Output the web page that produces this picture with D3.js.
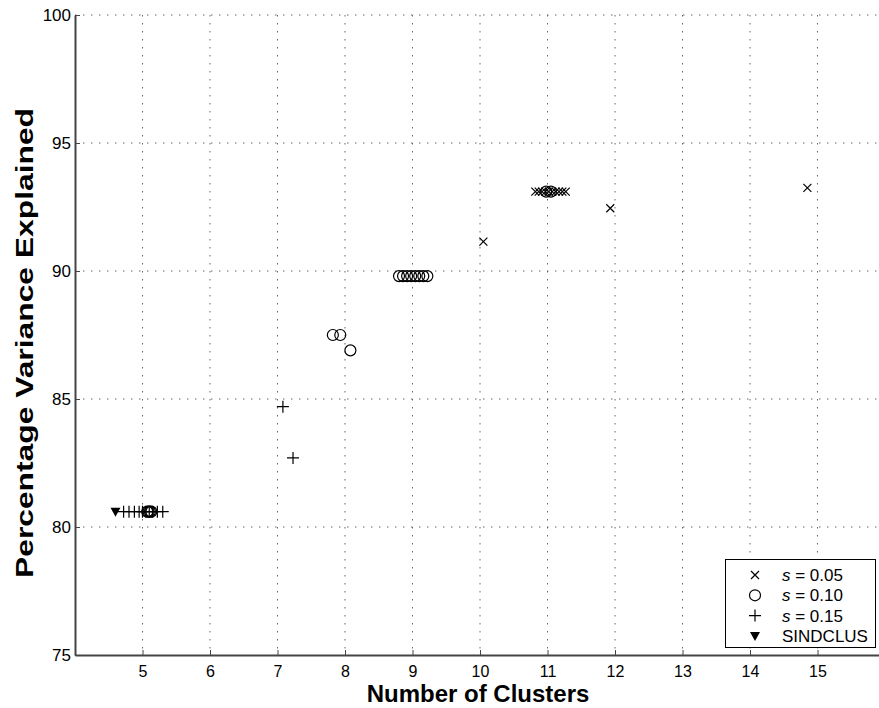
<!DOCTYPE html>
<html>
<head>
<meta charset="utf-8">
<script src="https://cdn.jsdelivr.net/npm/d3@7"></script>
<style>
  body { margin: 0; background: #fff; }
  svg { display: block; font-family: "Liberation Sans", Arial, sans-serif; }
</style>
</head>
<body>
<svg id="chart"></svg>
<script>
// tick values
var xTicks = [5, 6, 7, 8, 9, 10, 11, 12, 13, 14, 15];
var yTicks = [75, 80, 85, 90, 95, 100];

// s = 0.05 (crosses)
var s05Clusters = [10.05, 11.93, 14.85, 10.82, 10.87, 10.92, 10.97, 11.02, 11.07, 11.12, 11.17, 11.22, 11.27];
var s05Variance = [91.15, 92.45, 93.25, 93.1, 93.1, 93.1, 93.1, 93.1, 93.1, 93.1, 93.1, 93.1, 93.1];

// s = 0.10 (circles)
var s10Clusters = [7.82, 7.93, 8.08, 8.8, 8.86, 8.92, 8.98, 9.04, 9.1, 9.16, 9.22, 10.98, 11.05, 5.07, 5.09, 5.11, 5.13];
var s10Variance = [87.5, 87.5, 86.9, 89.8, 89.8, 89.8, 89.8, 89.8, 89.8, 89.8, 89.8, 93.1, 93.1, 80.6, 80.6, 80.6, 80.6];

// s = 0.15 (plus signs)
var s15Clusters = [7.08, 7.23, 4.72, 4.8, 4.88, 4.95, 5.0, 5.05, 5.1, 5.15, 5.22, 5.3];
var s15Variance = [84.7, 82.7, 80.6, 80.6, 80.6, 80.6, 80.6, 80.6, 80.6, 80.6, 80.6, 80.6];

// SINDCLUS (triangle)
var sindClusters = [4.6];
var sindVariance = [80.6];

var legendLabels = ["0.05", "0.10", "0.15", "SINDCLUS"];

function scatterChart(selector) {
    var config = {
        width: 879,
        height: 708,
        left: 75,
        top: 15,
        bottom: 655,
        right: 885,
        gridColor: "#666",
        axisColor: "#444"
    };

    var svg = d3.select(selector)
        .attr("width", config.width)
        .attr("height", config.height);

    var x = d3.scaleLinear().domain([4, 16]).range([config.left, config.right]);
    var y = d3.scaleLinear().domain([75, 100]).range([config.bottom, config.top]);

    // dotted grid
    svg.append("g").selectAll("line")
        .data(xTicks)
        .enter()
        .append("line")
        .attr("x1", function(d) { return x(d); })
        .attr("x2", function(d) { return x(d); })
        .attr("y1", y(100))
        .attr("y2", y(75))
        .style("stroke", config.gridColor)
        .style("stroke-width", 1)
        .style("stroke-dasharray", "1.5,6.5");

    svg.append("g").selectAll("line")
        .data(yTicks.slice(1))
        .enter()
        .append("line")
        .attr("x1", x(4))
        .attr("x2", x(16))
        .attr("y1", function(d) { return y(d); })
        .attr("y2", function(d) { return y(d); })
        .style("stroke", config.gridColor)
        .style("stroke-width", 1)
        .style("stroke-dasharray", "1.5,6.5");

    // axes (ticks point inward)
    var xAxis = d3.axisBottom(x).tickValues(xTicks).tickSizeInner(-5).tickSizeOuter(0).tickPadding(11);
    var yAxis = d3.axisLeft(y).tickValues(yTicks).tickSizeInner(-5).tickSizeOuter(0).tickPadding(4);

    var gx = svg.append("g")
        .attr("transform", "translate(0," + config.bottom + ")")
        .call(xAxis);
    var gy = svg.append("g")
        .attr("transform", "translate(" + config.left + ",0)")
        .call(yAxis);

    [gx, gy].forEach(function(g) {
        g.select(".domain").style("stroke", config.axisColor).style("stroke-width", 2);
        g.selectAll(".tick line").style("stroke", config.axisColor).style("stroke-width", 1);
        g.selectAll(".tick text")
            .style("font-size", "16px")
            .style("font-family", "Liberation Sans, Arial, sans-serif")
            .style("fill", "#000");
    });
    gy.selectAll(".tick text").style("font-size", "17px");

    // axis titles
    svg.append("text")
        .attr("x", 478)
        .attr("y", 702)
        .attr("text-anchor", "middle")
        .style("font-size", "24px")
        .style("font-weight", "bold")
        .text("Number of Clusters");

    svg.append("text")
        .attr("transform", "translate(33," + ((y(75) + y(100)) / 2 + 8) + ") rotate(-90)")
        .attr("text-anchor", "middle")
        .attr("textLength", 470)
        .attr("lengthAdjust", "spacingAndGlyphs")
        .style("font-size", "24px")
        .style("font-weight", "bold")
        .text("Percentage Variance Explained");

    // marker drawing helpers
    var markers = {
        cross: function(g, cx, cy) {
            var r = 4;
            g.append("path")
                .attr("d", "M" + (cx - r) + "," + (cy - r) + "L" + (cx + r) + "," + (cy + r) +
                    "M" + (cx - r) + "," + (cy + r) + "L" + (cx + r) + "," + (cy - r))
                .style("stroke", "#000").style("stroke-width", 1.2).style("fill", "none");
        },
        circle: function(g, cx, cy) {
            g.append("circle")
                .attr("cx", cx).attr("cy", cy).attr("r", 5.5)
                .style("stroke", "#000").style("stroke-width", 1.2).style("fill", "none");
        },
        plus: function(g, cx, cy) {
            var r = 6;
            g.append("path")
                .attr("d", "M" + (cx - r) + "," + cy + "L" + (cx + r) + "," + cy +
                    "M" + cx + "," + (cy - r) + "L" + cx + "," + (cy + r))
                .style("stroke", "#000").style("stroke-width", 1.2).style("fill", "none");
        },
        triangle: function(g, cx, cy) {
            g.append("path")
                .attr("d", "M" + (cx - 5) + "," + (cy - 4) + "L" + (cx + 5) + "," + (cy - 4) +
                    "L" + cx + "," + (cy + 5) + "Z")
                .style("fill", "#000");
        }
    };

    function drawSeries(xs, ys, type) {
        var g = svg.append("g");
        xs.forEach(function(d, i) {
            markers[type](g, x(d), y(ys[i]));
        });
    }

    drawSeries(s10Clusters, s10Variance, "circle");
    drawSeries(s05Clusters, s05Variance, "cross");
    drawSeries(s15Clusters, s15Variance, "plus");
    drawSeries(sindClusters, sindVariance, "triangle");

    // legend
    var lg = svg.append("g");
    lg.append("rect")
        .attr("x", 725.5).attr("y", 559.5)
        .attr("width", 150).attr("height", 88)
        .style("fill", "#fff").style("stroke", "#000").style("stroke-width", 1);

    var types = ["cross", "circle", "plus", "triangle"];
    types.forEach(function(t, i) {
        var cy = 575 + i * 20.3;
        markers[t](lg, 755, cy);
        var txt = lg.append("text")
            .attr("x", 782)
            .attr("y", cy + 6)
            .style("font-size", "17px");
        if (i < 3) {
            txt.append("tspan").style("font-style", "italic").text("s");
            txt.append("tspan").text(" = " + legendLabels[i]);
        } else {
            txt.text(legendLabels[i]);
        }
    });
}

scatterChart("#chart");
</script>
</body>
</html>
